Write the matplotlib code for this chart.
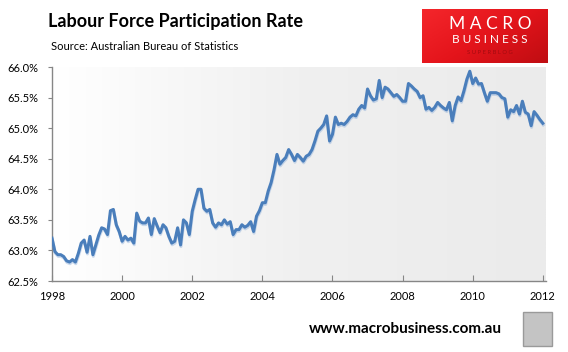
import numpy as np
import matplotlib
matplotlib.use("Agg")
import matplotlib.pyplot as plt
import matplotlib.patheffects as pe
from matplotlib.colors import LinearSegmentedColormap
from matplotlib.patches import Rectangle

# monthly participation rate (%), Jan 1998 - Jan 2012
start_year = 1998
rate = [
    63.20, 62.98, 62.93, 62.93, 62.90, 62.83, 62.81, 62.85, 62.81, 62.95, 63.12, 63.17,
    62.97, 63.23, 62.93, 63.09, 63.25, 63.37, 63.35, 63.26, 63.65, 63.67, 63.42, 63.31,
    63.15, 63.23, 63.17, 63.20, 63.12, 63.61, 63.48, 63.45, 63.45, 63.53, 63.26, 63.52,
    63.40, 63.29, 63.42, 63.37, 63.23, 63.12, 63.15, 63.37, 63.09, 63.50, 63.45, 63.26,
    63.64, 63.83, 64.00, 64.00, 63.69, 63.64, 63.67, 63.45, 63.38, 63.45, 63.42, 63.50,
    63.43, 63.47, 63.26, 63.34, 63.34, 63.42, 63.38, 63.41, 63.47, 63.31, 63.56, 63.65,
    63.78, 63.78, 63.97, 64.11, 64.32, 64.57, 64.41, 64.47, 64.52, 64.65, 64.57, 64.47,
    64.57, 64.52, 64.46, 64.54, 64.57, 64.65, 64.79, 64.95, 65.00, 65.06, 65.20, 64.79,
    64.90, 65.18, 65.06, 65.08, 65.06, 65.11, 65.18, 65.22, 65.20, 65.31, 65.37, 65.33,
    65.64, 65.53, 65.46, 65.48, 65.78, 65.50, 65.67, 65.64, 65.58, 65.52, 65.55, 65.50,
    65.44, 65.44, 65.73, 65.69, 65.64, 65.60, 65.50, 65.53, 65.31, 65.34, 65.29, 65.34,
    65.42, 65.37, 65.33, 65.30, 65.42, 65.12, 65.37, 65.51, 65.45, 65.61, 65.80, 65.93,
    65.73, 65.82, 65.72, 65.73, 65.58, 65.44, 65.58, 65.58, 65.58, 65.56, 65.50, 65.48,
    65.18, 65.30, 65.27, 65.37, 65.23, 65.44, 65.26, 65.23, 65.04, 65.27, 65.21, 65.14,
    65.08,
]
year_ticks = [1998, 2000, 2002, 2004, 2006, 2008, 2010, 2012]
rate_ticks = [62.5, 63.0, 63.5, 64.0, 64.5, 65.0, 65.5, 66.0]

title = "Labour Force Participation Rate"
source = "Source: Australian Bureau of Statistics"
site = "www.macrobusiness.com.au"

W, H = 568, 352
x = start_year + np.arange(len(rate)) / 12.0

fig = plt.figure(figsize=(W / 100, H / 100), dpi=100)
fig.patch.set_facecolor("white")

ax = fig.add_axes([52 / W, 1 - 281 / H, (546 - 52) / W, (281 - 67) / H])

# plot area fades from white to light grey
bg = LinearSegmentedColormap.from_list("bg", ["#ffffff", "#f0f0f0", "#ebebeb"])
ax.imshow(np.linspace(0, 1, 256).reshape(1, -1), cmap=bg, aspect="auto",
          extent=[0, 1, 0, 1], transform=ax.transAxes, zorder=0)

ax.plot(x, rate, color="#4a7ebb", lw=2.2, solid_joinstyle="round", zorder=3,
        path_effects=[pe.SimpleLineShadow(offset=(0.3, -1.2), shadow_color="#8fb0db", alpha=0.45),
                      pe.Normal()])

ax.set_xlim(1998, 2012.09)
ax.set_ylim(62.5, 66.0)

for s in ["top", "right"]:
    ax.spines[s].set_visible(False)
for s in ["left", "bottom"]:
    ax.spines[s].set_color("#868686")
    ax.spines[s].set_linewidth(1.0)

ax.set_xticks(year_ticks)
ax.set_xticklabels([str(y) for y in year_ticks])
ax.set_yticks(rate_ticks)
ax.set_yticklabels([f"{v:.1f}%" for v in rate_ticks])
ax.tick_params(axis="x", direction="in", length=4, color="#868686", pad=7,
               labelsize=8, labelcolor="black")
ax.tick_params(axis="y", direction="out", length=3, color="#868686", pad=7,
               labelsize=8, labelcolor="black")
for lab in ax.get_xticklabels() + ax.get_yticklabels():
    lab.set_family("Lato")

fig.text(48 / W, 1 - 22 / H, title, fontsize=13, fontweight="bold",
         family="Lato", va="center", ha="left")
fig.text(51 / W, 1 - 47 / H, source, fontsize=8, family="Lato", va="center", ha="left")

# red logo box
lax = fig.add_axes([422 / W, 1 - 63 / H, 126 / W, 54 / H])
red = LinearSegmentedColormap.from_list("red", ["#f4262b", "#e4141b", "#c00d12"])
gx, gy = np.meshgrid(np.linspace(0, 1, 64), np.linspace(0, 1, 32))
lax.imshow(0.6 * gx + 0.4 * gy, cmap=red, aspect="auto", extent=[0, 1, 0, 1])
lax.set_xlim(0, 1)
lax.set_ylim(0, 1)
lax.axis("off")
lax.text(0.54, 0.73, "M A C R O", color="white", fontsize=12.5, family="Lato",
         ha="center", va="center")
lax.text(0.54, 0.43, "B U S I N E S S", color="white", fontsize=8.5, family="Lato",
         ha="center", va="center")
lax.text(0.54, 0.2, "S U P E R B L O G", color="#a30b10", fontsize=4.2, family="Lato",
         ha="center", va="center")

fig.text(309 / W, 1 - 329 / H, site, fontsize=11, fontweight="bold", family="Lato",
         va="center", ha="left")

# small grey badge next to the url
fig.patches.append(Rectangle((523 / W, 1 - 346 / H), 29 / W, 34 / H,
                             transform=fig.transFigure, facecolor="#c4c4c4",
                             edgecolor="#9a9a9a", lw=1))

fig.savefig("out.png", dpi=100)
